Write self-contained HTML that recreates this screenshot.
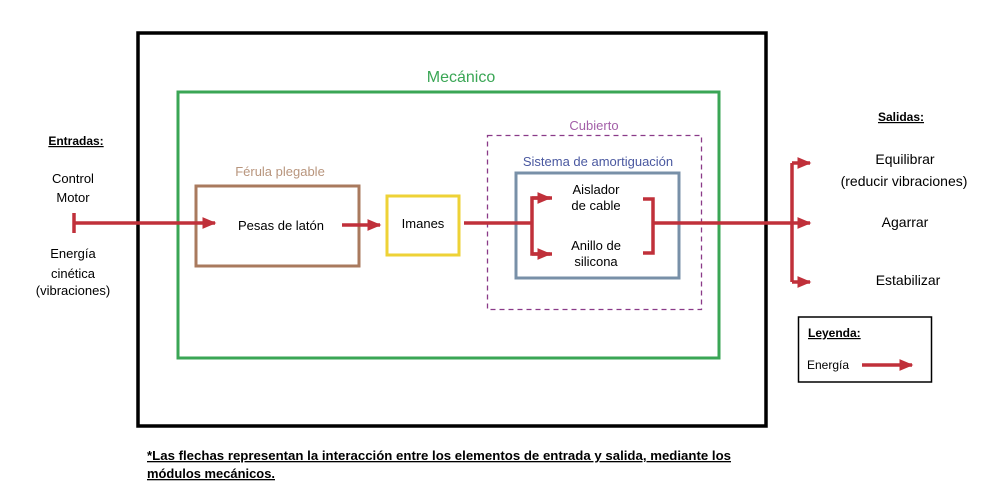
<!DOCTYPE html>
<html><head><meta charset="utf-8"><style>
html,body{margin:0;padding:0;background:#fff;width:1000px;height:502px;overflow:hidden}
text{font-family:"Liberation Sans","DejaVu Sans",sans-serif}
</style></head><body>
<svg width="1000" height="502" viewBox="0 0 1000 502" xmlns="http://www.w3.org/2000/svg">
<defs>
<marker id="a" markerWidth="5" markerHeight="5" refX="3.6" refY="2.2" orient="auto" markerUnits="strokeWidth">
<path d="M0,0.5 L4,2.2 L0,3.9 Z" fill="#c0303a"/></marker>
</defs>
<rect x="138" y="33" width="628" height="393" fill="none" stroke="#000" stroke-width="3.5"/>
<rect x="178" y="92" width="541" height="266" fill="none" stroke="#3aa655" stroke-width="3"/>
<text x="461" y="82" font-size="16" fill="#3aa655" text-anchor="middle">Mecánico</text>
<rect x="196" y="186" width="163" height="80" fill="none" stroke="#a97a5e" stroke-width="3"/>
<text x="280" y="176" font-size="13" fill="#b8957d" text-anchor="middle">Férula plegable</text>
<text x="281" y="230" font-size="13" fill="#000" text-anchor="middle">Pesas de latón</text>
<rect x="387" y="196" width="72" height="59" fill="none" stroke="#eed236" stroke-width="3"/>
<text x="423" y="228" font-size="13" fill="#000" text-anchor="middle">Imanes</text>
<rect x="487.5" y="135.5" width="214" height="174" fill="none" stroke="#8a3a88" stroke-width="1.3" stroke-dasharray="5,4"/>
<text x="594" y="130" font-size="13" fill="#a35fa8" text-anchor="middle">Cubierto</text>
<text x="598" y="166" font-size="13" fill="#4a58a0" text-anchor="middle">Sistema de amortiguación</text>
<rect x="516" y="173" width="163" height="105" fill="none" stroke="#7890a8" stroke-width="3"/>
<text x="596" y="194" font-size="13" fill="#000" text-anchor="middle">Aislador</text>
<text x="596" y="210" font-size="13" fill="#000" text-anchor="middle">de cable</text>
<text x="596" y="250" font-size="13" fill="#000" text-anchor="middle">Anillo de</text>
<text x="596" y="266" font-size="13" fill="#000" text-anchor="middle">silicona</text>
<g stroke="#c0303a" stroke-width="3.5" fill="none">
<line x1="74" y1="213" x2="74" y2="233"/>
<line x1="74" y1="223" x2="215" y2="223" marker-end="url(#a)"/>
<line x1="342" y1="225" x2="380" y2="225" marker-end="url(#a)"/>
<line x1="464" y1="223" x2="532" y2="223"/>
<path d="M552,198 H532 V254 H552"/>
<line x1="532" y1="198" x2="550" y2="198" marker-end="url(#a)"/>
<line x1="532" y1="254" x2="550" y2="254" marker-end="url(#a)"/>
<path d="M643,199 H653 V253 H643"/>
<line x1="653" y1="223" x2="792" y2="223"/>
<path d="M792,163 V282"/>
<line x1="792" y1="163" x2="810" y2="163" marker-end="url(#a)"/>
<line x1="792" y1="223" x2="810" y2="223" marker-end="url(#a)"/>
<line x1="792" y1="282" x2="810" y2="282" marker-end="url(#a)"/>
<line x1="862" y1="365" x2="912" y2="365" marker-end="url(#a)"/>
</g>
<text x="76" y="145" font-size="12" font-weight="bold" fill="#000" text-anchor="middle" text-decoration="underline">Entradas:</text>
<text x="73" y="183" font-size="13" fill="#000" text-anchor="middle">Control</text>
<text x="73" y="202" font-size="13" fill="#000" text-anchor="middle">Motor</text>
<text x="73" y="258" font-size="13" fill="#000" text-anchor="middle">Energía</text>
<text x="73" y="278" font-size="13" fill="#000" text-anchor="middle">cinética</text>
<text x="73" y="295" font-size="13" fill="#000" text-anchor="middle">(vibraciones)</text>
<text x="901" y="121" font-size="12" font-weight="bold" fill="#000" text-anchor="middle" text-decoration="underline">Salidas:</text>
<text x="905" y="164" font-size="14" fill="#000" text-anchor="middle">Equilibrar</text>
<text x="904" y="186" font-size="14" fill="#000" text-anchor="middle">(reducir vibraciones)</text>
<text x="905" y="227" font-size="14" fill="#000" text-anchor="middle">Agarrar</text>
<text x="908" y="285" font-size="14" fill="#000" text-anchor="middle">Estabilizar</text>
<rect x="798.5" y="317" width="133" height="65" fill="none" stroke="#000" stroke-width="1.5"/>
<text x="808" y="337" font-size="12" font-weight="bold" fill="#000" text-decoration="underline">Leyenda:</text>
<text x="807" y="369" font-size="12" fill="#000">Energía</text>
<text x="147" y="460" font-size="13" font-weight="bold" fill="#000" text-decoration="underline" textLength="584" lengthAdjust="spacingAndGlyphs">*Las flechas representan la interacción entre los elementos de entrada y salida, mediante los</text>
<text x="147" y="478" font-size="13" font-weight="bold" fill="#000" text-decoration="underline" textLength="128" lengthAdjust="spacingAndGlyphs">módulos mecánicos.</text>
</svg>
</body></html>
